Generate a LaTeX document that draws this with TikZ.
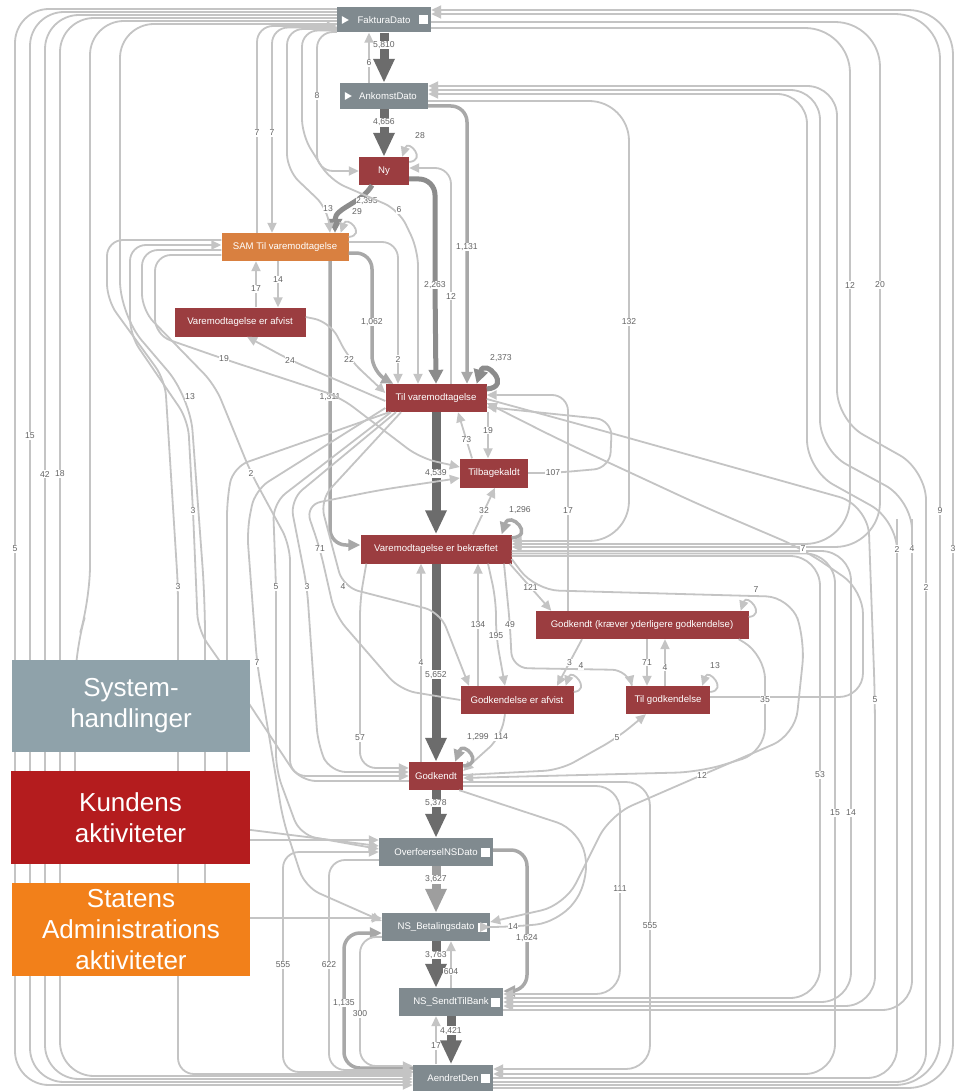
\documentclass[tikz,border=0pt]{standalone}
\usepackage{fontspec}
\setmainfont{Liberation Sans}
\usetikzlibrary{arrows.meta, positioning, calc}
\definecolor{sysgray}{RGB}{128,138,143}
\definecolor{custred}{RGB}{155,61,64}
\definecolor{stateorange}{RGB}{217,128,64}
\definecolor{legsys}{RGB}{143,162,170}
\definecolor{legcust}{RGB}{180,28,30}
\definecolor{legstate}{RGB}{242,128,26}
\definecolor{edgegray}{RGB}{196,196,196}
\definecolor{heavygray}{RGB}{108,108,108}
\definecolor{paleheavy}{RGB}{158,158,158}
\definecolor{midgray}{RGB}{140,140,140}
\definecolor{lightheavy}{RGB}{168,168,168}
\definecolor{lblgray}{RGB}{100,100,100}

\begin{document}
\begin{tikzpicture}[x=1pt, y=-1pt, >={Triangle[length=10pt, width=9pt]}, every node/.style={font=\fontsize{9.6}{10}\selectfont}]
% Define styles for activities, legend, flows and labels
\tikzstyle{activity} = [rectangle, text=white, minimum height=28pt, inner sep=0pt]
\tikzstyle{sysnode} = [activity, fill=sysgray]
\tikzstyle{custnode} = [activity, fill=custred]
\tikzstyle{statenode} = [activity, fill=stateorange]
\tikzstyle{legbox} = [rectangle, text=white, align=center, inner sep=0pt, font=\fontsize{26}{31}\selectfont]
\tikzstyle{flow} = [draw=edgegray, line width=1.8pt, rounded corners=16pt, ->]
\tikzstyle{flowA} = [draw=heavygray, line width=9pt, -{Triangle[length=24pt, width=20pt]}]
\tikzstyle{flowB} = [draw=midgray, line width=5pt, rounded corners=16pt, -{Triangle[length=14pt, width=14pt]}]
\tikzstyle{flowC} = [draw=lightheavy, line width=3.5pt, rounded corners=16pt, -{Triangle[length=12pt, width=11pt]}]
\tikzstyle{lbl} = [fill=white, sharp corners, inner sep=0.7pt, text=lblgray, font=\fontsize{8.6}{9}\selectfont]

\fill[white] (0,0) rectangle (954,1091);
\useasboundingbox (0,0) rectangle (954,1091);

% Activities
\node[sysnode, minimum width=94pt, minimum height=25pt] (fak) at (384,20) {FakturaDato};
\node[sysnode, minimum width=88pt, minimum height=26pt, below of=fak, node distance=76pt] (ank) {\hspace{8pt}AnkomstDato};
\node[custnode, minimum width=50pt, below of=ank, node distance=75pt] (ny) {Ny};
\node[statenode, minimum width=127pt] (sam) at (285,247) {SAM Til varemodtagelse};
\node[custnode, minimum width=131pt, minimum height=29pt] (vea) at (240,322) {Varemodtagelse er afvist};
\node[custnode, minimum width=101pt] (tilvm) at (436,398) {Til varemodtagelse};
\node[custnode, minimum width=68pt, minimum height=29pt] (tilb) at (494,473) {Tilbagekaldt};
\node[custnode, minimum width=151pt, minimum height=29pt, below of=tilvm, node distance=151pt] (bek) {Varemodtagelse er bekræftet};
\node[custnode, minimum width=213pt] (godkK) at (642,625) {Godkendt (kræver yderligere godkendelse)};
\node[custnode, minimum width=113pt] (godkA) at (517,700) {Godkendelse er afvist};
\node[custnode, minimum width=84pt, right of=godkA, node distance=151pt] (tilg) {Til godkendelse};
\node[custnode, minimum width=54pt, below of=bek, node distance=227pt] (godk) {Godkendt};
\node[sysnode, minimum width=114pt, below of=godk, node distance=76pt] (overf) {OverfoerselNSDato\hspace{12pt}};
\node[sysnode, minimum width=108pt, below of=overf, node distance=75pt] (nsbet) {NS\_Betalingsdato\hspace{12pt}};
\node[sysnode, minimum width=104pt] (nssendt) at (451,1002) {NS\_SendtTilBank\hspace{12pt}};
\node[sysnode, minimum width=80pt, minimum height=27pt] (aendret) at (453,1078) {AendretDen\hspace{12pt}};

% start and end markers
\foreach \n in {fak,ank}
  \fill[white] ([xshift=5pt,yshift=4pt]\n.west) -- ++(0pt,-8pt) -- ++(7pt,4pt) -- cycle;
\foreach \n in {fak,overf,nsbet,nssendt,aendret}
  \fill[white] ([xshift=-12pt,yshift=-4.5pt]\n.east) rectangle ++(9pt,9pt);

% Main path
\draw[flowA] (fak) -- node[lbl, pos=0.25]{5,810} (ank);
\draw[flowA] (ank) -- node[lbl, pos=0.28]{4,656} (ny);
\draw[flowA] (tilvm) -- node[lbl]{4,539} (bek);
\draw[flowA] (bek) -- node[lbl, pos=0.56]{5,652} (godk);
\draw[flowA] (godk) -- node[lbl, pos=0.27]{5,378} (overf);
\draw[flowA, draw=paleheavy] (overf) -- node[lbl, pos=0.28]{3,627} (nsbet);
\draw[flowA] (nsbet.south) -- node[lbl, pos=0.3]{3,763} ([xshift=-15pt]nssendt.north);
\draw[flowA] (nssendt.south) -- node[lbl, pos=0.3]{4,421} ([xshift=-2pt]aendret.north);
\draw[flowB] ([xshift=-12pt]ny.south) .. controls +(-10pt,-18pt) and +(0pt,25pt) .. ([xshift=50pt]sam.north) node[lbl] at (367,201) {2,395};
\draw[flowB] ([yshift=-8pt]ny.east) -- (435,179) -- (435,285) node[lbl]{2,263} -- (tilvm.north);
\draw[flowC] ([yshift=-10pt]ank.east) -- (467,106) -- (467,247) node[lbl]{1,131} -- ([xshift=31pt]tilvm.north);
\draw[flowC] ([yshift=-6pt]sam.east) -- (372,253) -- (372,322) node[lbl]{1,062} -- (372,372) -- ([xshift=8pt]tilvm.north west);
\draw[flowC] ([xshift=45pt]sam.south) -- (330,397) node[lbl]{1,311} -- (330,545) -- ([yshift=4pt]bek.west);
\draw[flowC] ([yshift=2pt]overf.east) -- (527,850) -- (527,938) node[lbl]{1,624} -- (527,991) -- ([yshift=11pt]nssendt.east);
\draw[flowC] ([yshift=10pt]aendret.west) -- (344,1068) -- (344,1003) node[lbl]{1,135} -- (344,933) -- ([yshift=-6pt]nsbet.west);

% Short links between neighbours
\draw[flow] ([xshift=-15pt]ank.north) -- node[lbl, pos=0.4]{6} ([xshift=-15pt]fak.south);
\draw[flow, line width=2.6pt] (nssendt.north) -- node[lbl, pos=0.35]{604} ([xshift=15pt]nsbet.south);
\draw[flow] ([xshift=-17pt]aendret.north) -- node[lbl, pos=0.38]{17} ([xshift=-15pt]nssendt.south);
\draw[flow] ([xshift=-7pt]sam.south) -- node[lbl, pos=0.4]{14} ([xshift=38pt]vea.north);
\draw[flow] ([xshift=16pt]vea.north) -- node[lbl, pos=0.4]{17} ([xshift=-29pt]sam.south);
\draw[flow] ([xshift=-22pt]tilb.north) -- node[lbl, pos=0.4]{73} ([xshift=22pt]tilvm.south);
\draw[flow] ([xshift=52pt]tilvm.south) -- node[lbl, pos=0.4]{19} ([xshift=-6pt]tilb.north);
\draw[flow] ([xshift=37pt]bek.north) -- node[lbl]{32} ([xshift=1pt]tilb.south);
\draw[flow] ([xshift=-2pt]bek.south east) -- node[lbl]{121} ([xshift=16pt]godkK.north west);
\draw[flow] ([xshift=-39pt]godkA.north) -- node[lbl]{134} ([xshift=42pt]bek.south);
\draw[flow] ([xshift=52pt]bek.south) -- (496,600) -- (496,636) node[lbl]{195} -- ([xshift=-12pt]godkA.north);
\draw[flow] ([xshift=68pt]bek.south) -- (510,625) node[lbl]{49} -- (512,668) -- (628,670) -- ([xshift=-36pt]tilg.north);
\draw[flow] ([xshift=-60pt]godkK.south) -- node[lbl]{3} ([xshift=40pt]godkA.north);
\draw[flow] ([xshift=5pt]godkK.south) -- node[lbl]{71} ([xshift=-21pt]tilg.north);
\draw[flow] ([xshift=-3pt]tilg.north) -- node[lbl, pos=0.4]{4} ([xshift=23pt]godkK.south);
\draw[flow] ([xshift=-15pt]godk.north) -- node[lbl]{4} ([xshift=-15pt]bek.south);
\draw[flow] ([xshift=-12pt]godkA.south) -- (501,737) node[lbl]{114} -- ([yshift=5pt]godk.east);
\draw[flow] ([yshift=1pt]godk.east) -- (560,770) -- (617,738) node[lbl]{5} -- ([xshift=-22pt]tilg.south);

% Self loops
\draw[flow] ([yshift=9pt]ny.east) .. controls +(18pt,2pt) and +(6pt,18pt) .. ([xshift=-7pt]ny.north east) node[lbl] at (420,136) {28};
\draw[flow] ([yshift=10pt]sam.east) .. controls +(18pt,2pt) and +(6pt,18pt) .. ([xshift=-8pt]sam.north east) node[lbl] at (357,212) {29};
\draw[flowB] ([yshift=9pt]tilvm.east) .. controls +(26pt,2pt) and +(8pt,26pt) .. ([xshift=-10pt]tilvm.north east) node[lbl] at (501,358) {2,373};
\draw[flowC] ([yshift=11pt]bek.east) .. controls +(24pt,2pt) and +(8pt,24pt) .. ([xshift=-10pt]bek.north east) node[lbl] at (520,510) {1,296};
\draw[flowC] ([yshift=10pt]godk.east) .. controls +(22pt,2pt) and +(8pt,22pt) .. ([xshift=-8pt]godk.north east) node[lbl] at (478,737) {1,299};
\draw[flow] ([yshift=8pt]godkK.east) .. controls +(18pt,2pt) and +(6pt,18pt) .. ([xshift=-8pt]godkK.north east) node[lbl] at (756,590) {7};
\draw[flow] ([yshift=8pt]tilg.east) .. controls +(18pt,2pt) and +(6pt,18pt) .. ([xshift=-8pt]tilg.north east) node[lbl] at (715,666) {13};
\draw[flow] ([yshift=8pt]godkA.east) .. controls +(18pt,2pt) and +(6pt,18pt) .. ([xshift=-8pt]godkA.north east) node[lbl] at (581,666) {4};

% Left side of FakturaDato
\draw[flow, rounded corners=34pt] ([yshift=11pt]fak.west) -- (15,9) -- (15,549) node[lbl]{5} -- (15,1085) -- ([yshift=-7pt]aendret.west);
\draw[flow, rounded corners=34pt] ([yshift=8pt]fak.west) -- (30,12) -- (30,436) node[lbl]{15} -- (30,1082) -- ([yshift=-4pt]aendret.west);
\draw[flow, rounded corners=34pt] ([yshift=5pt]fak.west) -- (45,15) -- (45,474) node[lbl]{42} -- (45,1079) -- ([yshift=-1pt]aendret.west);
\draw[flow, rounded corners=34pt] ([yshift=2pt]fak.west) -- (60,18) -- (60,474) node[lbl]{18} -- (60,1076) -- ([yshift=2pt]aendret.west);
\draw[flow, rounded corners=34pt] ([yshift=-1pt]fak.west) -- (90,21) -- (90,600) -- (75,650) -- (75,840) -- ([yshift=12pt]overf.west);
\draw[flow, rounded corners=34pt] ([yshift=-4pt]fak.west) -- (120,24) -- (120,315) -- (190,397) node[lbl]{13} -- (205,600) -- (205,918) -- ([yshift=9pt]nsbet.west);
\draw[flow] ([xshift=-28pt]sam.north) -- (257,133) node[lbl]{7} -- (257,26) -- ([yshift=-6pt]fak.west);
\draw[flow] ([yshift=-7.5pt]fak.west) -- (272,27.5) -- (272,133) node[lbl]{7} -- ([xshift=-13pt]sam.north);
\draw[flow] ([yshift=-9pt]fak.west) -- (287,29) -- (287,170) -- (328,209) node[lbl]{13} -- ([xshift=45pt]sam.north);
\draw[flow] ([yshift=-10.5pt]fak.west) -- (302,30.5) -- (302,135) -- (330,180) -- (399,210) node[lbl]{6} -- (418,250) -- ([xshift=-18pt]tilvm.north);
\draw[flow] ([yshift=-12pt]fak.west) -- (317,32) -- (317,96) node[lbl]{8} -- (317,171) -- (ny.west);

% Right side of FakturaDato and AnkomstDato
\draw[flow, rounded corners=45pt] ([yshift=-10pt]aendret.east) -- (953,1088) -- (953,549) node[lbl]{3} -- (953,10) -- ([yshift=10pt]fak.east);
\draw[flow, rounded corners=45pt] ([yshift=-7pt]aendret.east) -- (940,1085) -- (940,511) node[lbl]{9} -- (940,14) -- ([yshift=6pt]fak.east);
\draw[flow, rounded corners=45pt] ([yshift=-2pt]fak.east) -- (880,22) -- (880,285) node[lbl]{20} -- (880,547) -- ([yshift=2pt]bek.east);
\draw[flow, rounded corners=45pt] ([yshift=-8pt]fak.east) -- (850,28) -- (850,285) node[lbl]{12} -- (850,544) -- ([yshift=5pt]bek.east);
\draw[flow, rounded corners=40pt] ([yshift=-5pt]ank.east) -- (629,101) -- (629,322) node[lbl]{132} -- (629,541) -- ([yshift=8pt]bek.east);
\draw[flow, rounded corners=30pt] (aendret.east) -- (897,1078) -- (897,549) node[lbl]{2} -- (897,520) -- (807,470) -- (807,94) -- ([yshift=2pt]ank.east);
\draw[flow, rounded corners=30pt] ([yshift=-8pt]nssendt.east) -- (912,1010) -- (912,549) node[lbl]{4} -- (912,500) -- (820,450) -- (820,90) -- ([yshift=6pt]ank.east);
\draw[flow, rounded corners=30pt] ([yshift=-4pt]aendret.east) -- (926,1082) -- (926,587) node[lbl]{2} -- (926,470) -- (837,420) -- (837,86) -- ([yshift=10pt]ank.east);

% Right side, middle and bottom
\draw[flow, rounded corners=30pt] ([yshift=-2pt]bek.east) -- (851,551) -- (851,813) node[lbl]{14} -- (851,1002) -- (nssendt.east);
\draw[flow, rounded corners=30pt] ([yshift=-4.5pt]bek.east) -- (835,553.5) -- (835,813) node[lbl]{15} -- (835,1074) -- ([yshift=4pt]aendret.east);
\draw[flow, rounded corners=30pt] ([yshift=-7pt]bek.east) -- (820,556) -- (820,775) node[lbl]{53} -- (820,998) -- ([yshift=4pt]nssendt.east);
\draw[flow, rounded corners=30pt] ([yshift=-1pt]tilvm.east) -- (600,430) -- (868,505) -- (875,700) node[lbl]{5} -- (875,1006) -- ([yshift=-4pt]nssendt.east);
\draw[flow, rounded corners=24pt] ([yshift=3pt]tilg.east) -- (863,697) -- (863,590) -- (803,549) node[lbl]{7} -- (700,505) -- (560,440) -- ([yshift=-5pt]tilvm.east);
\draw[flow] (tilb.east) -- (553,473) node[lbl]{107} -- (610,468) -- (612,420) -- ([yshift=-9pt]tilvm.east);
\draw[flow] ([xshift=-74pt]godkK.north) -- (568,511) node[lbl]{17} -- (568,395) -- ([yshift=3pt]tilvm.east);
\draw[flow, rounded corners=24pt] ([yshift=-10pt]bek.east) -- (535,590) -- (790,597) -- (805,640) -- (795,735) -- (702,775) node[lbl]{12} -- (610,815) -- (565,905) -- ([yshift=5pt]nsbet.east);
\draw[flow, rounded corners=24pt] ([xshift=-10pt]godkK.south east) -- (765,655) -- (765,700) node[lbl]{35} -- (765,752) -- (700,772) -- ([yshift=-2pt]godk.east);
\draw[flow, rounded corners=24pt] ([yshift=-10pt]godk.east) -- (620,786) -- (620,889) node[lbl]{111} -- (620,994) -- ([yshift=8pt]nssendt.east);
\draw[flow, rounded corners=24pt] ([yshift=-6pt]godk.east) -- (650,782) -- (650,926) node[lbl]{555} -- (650,1069) -- ([yshift=9pt]aendret.east);
\draw[flow, rounded corners=24pt] ([xshift=-4pt]godk.south east) -- (580,830) -- (590,880) -- (560,922) -- (513,927) node[lbl]{14} -- (nsbet.east);

% Around SAM and Til varemodtagelse
\draw[flow] ([yshift=5pt]sam.east) -- (398,242) -- (398,359) node[lbl]{2} -- ([xshift=-38pt]tilvm.north);
\draw[flow] ([yshift=5pt]vea.east) -- (330,322) -- (349,359) node[lbl]{22} -- ([yshift=5pt]tilvm.west);
\draw[flow] ([yshift=-3pt]tilvm.west) -- (290,360) node[lbl]{24} -- ([xshift=7pt]vea.south);
\draw[flow] ([xshift=15pt]tilvm.north) -- (451,296) node[lbl]{12} -- (451,168) -- ([yshift=3pt]ny.east);
\draw[flow] ([yshift=7pt]sam.west) -- (107,240) -- (107,300) -- (165,380) -- (178,587) node[lbl]{3} -- (178,1074) -- ([yshift=4pt]aendret.west);
\draw[flow] ([yshift=-5pt]godk.west) -- (300,781) -- (240,690) -- (198,630) -- (193,511) node[lbl]{3} -- (188,420) -- (130,335) -- (130,245) -- ([yshift=2pt]sam.west);
\draw[flow] ([yshift=-3pt]sam.west) -- (142,250) -- (142,310) -- (215,385) -- (251,473) node[lbl]{2} -- (290,545) -- (290,776) -- (godk.west);
\draw[flow] ([yshift=-8pt]sam.west) -- (155,255) -- (155,335) -- (224,359) node[lbl]{19} -- (340,397) -- (420,458) -- ([yshift=6pt]tilb.west);
\draw[flow] (godkA.west) -- (400,690) -- (335,615) -- (320,549) node[lbl]{71} -- (305,505) -- (380,490) -- ([yshift=-5pt]tilb.west);
\draw[flow] ([xshift=-35pt]tilvm.south) -- (320,500) -- (343,587) node[lbl]{4} -- (440,612) -- ([xshift=-48pt]godkA.north);
\draw[flow] ([xshift=-40pt]tilvm.south) -- (290,500) -- (307,587) node[lbl]{3} -- (318,745) -- (330,772) -- ([yshift=4pt]godk.west);
\draw[flow] ([xshift=-45pt]tilvm.south) -- (273,503) -- (276,587) node[lbl]{5} -- (276,770) -- (300,835) -- ([yshift=3pt]overf.west);
\draw[flow] ([yshift=-10pt]tilvm.west) -- (255,490) -- (247,530) -- (257,663) node[lbl]{7} -- (283,820) -- (305,887) -- ([yshift=6pt]nsbet.west);
\draw[flow] ([xshift=4pt]tilvm.south west) -- (233,467) -- (227,500) -- (227,827) -- ([yshift=6pt]overf.west);
\draw[flow] ([xshift=6pt]bek.south west) -- (360,600) -- (360,738) node[lbl]{57} -- (360,768) -- ([yshift=8pt]godk.west);

% Bottom left
\draw[flow] ([yshift=6pt]aendret.west) -- (283,1072) -- (283,965) node[lbl]{555} -- (283,852) -- (overf.west);
\draw[flow] ([yshift=-8pt]overf.west) -- (329,860) -- (329,965) node[lbl]{622} -- (329,1070) -- ([yshift=8pt]aendret.west);
\draw[flow] ([yshift=-10pt]nsbet.west) -- (360,937) -- (360,1014) node[lbl]{300} -- (360,1066) -- ([yshift=12pt]aendret.west);

% Legend
\node[legbox, fill=legsys, minimum width=238pt, minimum height=92pt] (legsys) at (131,706) {System-\\handlinger};
\node[legbox, fill=legcust, minimum width=239pt, minimum height=93pt] (legcust) at (130.5,817.5) {Kundens\\aktiviteter};
\node[legbox, fill=legstate, minimum width=238pt, minimum height=93pt] (legstate) at (131,929.5) {Statens\\Administrations\\aktiviteter};
\end{tikzpicture}
\end{document}
